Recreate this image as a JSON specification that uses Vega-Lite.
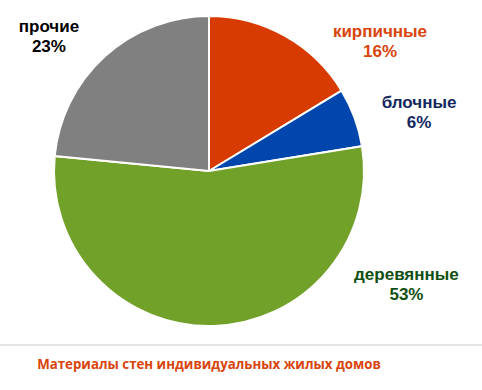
{
  "$schema": "https://vega.github.io/schema/vega-lite/v6.json",
  "width": 418,
  "height": 342,
  "autosize": "none",
  "padding": {"left": 0, "top": 0, "right": 64, "bottom": 48},
  "background": "white",
  "config": {"view": {"stroke": null}},
  "title": {
    "text": "Материалы стен индивидуальных жилых домов",
    "orient": "bottom",
    "anchor": "middle",
    "font": "Open Sans",
    "fontSize": 13.3,
    "fontWeight": "bold",
    "color": "#D9440C",
    "offset": 12
  },
  "data": {
    "values": [
      {"material": "кирпичные", "value": 16, "order": 1},
      {"material": "блочные", "value": 6, "order": 2},
      {"material": "деревянные", "value": 53, "order": 3},
      {"material": "прочие", "value": 23, "order": 4}
    ]
  },
  "layer": [
    {
      "transform": [{"stack": "value", "groupby": [], "sort": [{"field": "order", "order": "ascending"}], "as": ["v0", "v1"]}],
      "mark": {"type": "arc", "outerRadius": 155, "stroke": "white", "strokeWidth": 2},
      "encoding": {
        "theta": {"field": "v0", "type": "quantitative", "scale": {"domain": [0, 98]}},
        "theta2": {"field": "v1"},
        "color": {
          "field": "material",
          "type": "nominal",
          "scale": {"domain": ["кирпичные", "блочные", "деревянные", "прочие"], "range": ["#D83B01", "#0046AD", "#72A12A", "#808080"]},
          "legend": null
        }
      }
    },
    {
      "transform": [
        {"stack": "value", "groupby": [], "sort": [{"field": "order", "order": "ascending"}], "as": ["v0", "v1"]},
        {"filter": "datum.material === 'кирпичные'"}
      ],
      "mark": {"type": "text", "radius": 200, "dx": 171, "dy": 61, "font": "Liberation Sans", "fontSize": 17, "fontWeight": "bold", "color": "#D9440C", "lineHeight": 20, "align": "center", "baseline": "middle", "text": {"expr": "[datum.material, datum.value + '%']"}},
      "encoding": {"theta": {"field": "v0", "type": "quantitative"}}
    },
    {
      "transform": [
        {"stack": "value", "groupby": [], "sort": [{"field": "order", "order": "ascending"}], "as": ["v0", "v1"]},
        {"filter": "datum.material === 'блочные'"}
      ],
      "mark": {"type": "text", "radius": 200, "dx": 39, "dy": 36, "font": "Liberation Sans", "fontSize": 17, "fontWeight": "bold", "color": "#13285E", "lineHeight": 20, "align": "center", "baseline": "middle", "text": {"expr": "[datum.material, datum.value + '%']"}},
      "encoding": {"theta": {"field": "v0", "type": "quantitative"}}
    },
    {
      "transform": [
        {"stack": "value", "groupby": [], "sort": [{"field": "order", "order": "ascending"}], "as": ["v0", "v1"]},
        {"filter": "datum.material === 'деревянные'"}
      ],
      "mark": {"type": "text", "radius": 200, "dx": 0, "dy": 136, "font": "Liberation Sans", "fontSize": 17, "fontWeight": "bold", "color": "#0F4F12", "lineHeight": 20, "align": "center", "baseline": "middle", "text": {"expr": "[datum.material, datum.value + '%']"}},
      "encoding": {"theta": {"field": "v0", "type": "quantitative"}}
    },
    {
      "transform": [
        {"stack": "value", "groupby": [], "sort": [{"field": "order", "order": "ascending"}], "as": ["v0", "v1"]},
        {"filter": "datum.material === 'прочие'"}
      ],
      "mark": {"type": "text", "radius": 200, "dx": 39, "dy": -125, "font": "Liberation Sans", "fontSize": 17, "fontWeight": "bold", "color": "#000000", "lineHeight": 20, "align": "center", "baseline": "middle", "text": {"expr": "[datum.material, datum.value + '%']"}},
      "encoding": {"theta": {"field": "v0", "type": "quantitative"}}
    },
    {
      "data": {"values": [{}]},
      "mark": {"type": "rule", "color": "#C8C8C8", "strokeWidth": 1},
      "encoding": {
        "y": {"value": {"expr": "height + 3"}},
        "x": {"value": 0},
        "x2": {"value": {"expr": "width + 64"}}
      }
    }
  ]
}
